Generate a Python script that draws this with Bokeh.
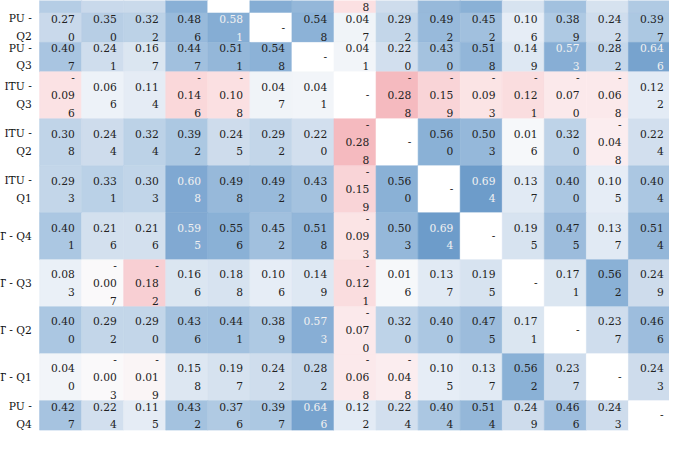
import math
from bokeh.plotting import figure
from bokeh.models import ColumnDataSource, LinearColorMapper, Range1d
from bokeh.transform import transform
from bokeh.core.properties import value
from bokeh.embed import file_html
from bokeh.resources import INLINE

NaN = float("nan")

# ---- data (correlation table, visible part) ----
row_labels = ["", "PU - Q2", "PU - Q3", "ITU - Q3", "ITU - Q2", "ITU - Q1",
              "T - Q4", "T - Q3", "T - Q2", "T - Q1", "PU - Q4"]

r_top   = [0.352, 0.268, 0.259, 0.570, NaN, 0.581, 0.511, -0.108, 0.245, 0.498, 0.556, 0.188, 0.441, 0.197, 0.376]
r_pu_q2 = [0.270, 0.350, 0.322, 0.486, 0.581, NaN, 0.548, 0.047, 0.292, 0.492, 0.452, 0.106, 0.389, 0.242, 0.397]
r_pu_q3 = [0.407, 0.241, 0.167, 0.447, 0.511, 0.548, NaN, 0.041, 0.220, 0.430, 0.518, 0.149, 0.573, 0.282, 0.646]
r_itu_q3 = [-0.096, 0.066, 0.114, -0.146, -0.108, 0.047, 0.041, NaN, -0.288, -0.159, -0.093, -0.121, -0.070, -0.068, 0.122]
r_itu_q2 = [0.308, 0.244, 0.324, 0.392, 0.245, 0.292, 0.220, -0.288, NaN, 0.560, 0.503, 0.016, 0.320, -0.048, 0.224]
r_itu_q1 = [0.293, 0.331, 0.303, 0.608, 0.498, 0.492, 0.430, -0.159, 0.560, NaN, 0.694, 0.137, 0.400, 0.105, 0.404]
r_t_q4  = [0.401, 0.216, 0.216, 0.595, 0.556, 0.452, 0.518, -0.093, 0.503, 0.694, NaN, 0.195, 0.475, 0.137, 0.514]
r_t_q3  = [0.083, -0.007, -0.182, 0.166, 0.188, 0.106, 0.149, -0.121, 0.016, 0.137, 0.195, NaN, 0.171, 0.562, 0.249]
r_t_q2  = [0.400, 0.292, 0.290, 0.436, 0.441, 0.389, 0.573, -0.070, 0.320, 0.400, 0.475, 0.171, NaN, 0.237, 0.466]
r_t_q1  = [0.040, -0.003, -0.019, 0.158, 0.197, 0.242, 0.282, -0.068, -0.048, 0.105, 0.137, 0.562, 0.237, NaN, 0.243]
r_pu_q4 = [0.427, 0.224, 0.115, 0.432, 0.376, 0.397, 0.646, 0.122, 0.224, 0.404, 0.514, 0.249, 0.466, 0.243, NaN]

rows = [r_top, r_pu_q2, r_pu_q3, r_itu_q3, r_itu_q2, r_itu_q1,
        r_t_q4, r_t_q3, r_t_q2, r_t_q1, r_pu_q4]

# ---- styling / layout (reference pixel space) ----
W_REF, H_REF = 685, 451
X0, CW = 40.0, 43.07
LINE = 18.2
PAD_R = 7.0
LABEL_R = 32.0
FIRST_ROW_BOTTOM = 13.0
MIN_TEXT_Y = 5.0          # lines above this are scrolled out of view
FONT = "DejaVu Serif"
FONT_SIZE = "10.7px"
DARK, LIGHT = "#222222", "#f1f1f1"

anchors = [(-1.0, "#b83a4b"), (-0.5, "#ee9aa2"), (-0.29, "#f5b9be"), (-0.1, "#fbe1e3"),
           (0.0, "#fafafb"), (0.1, "#e7eef6"), (0.25, "#cddcec"), (0.4, "#abc7e2"),
           (0.5, "#96b8da"), (0.565, "#89b0d6"), (0.6, "#80a9d2"), (0.7, "#6b9bc9"),
           (1.0, "#3a6fa8")]


def h2rgb(h):
    return tuple(int(h[i:i + 2], 16) for i in (1, 3, 5))


def interp(v):
    for (a, ca), (b, cb) in zip(anchors[:-1], anchors[1:]):
        if a <= v <= b:
            t = (v - a) / (b - a)
            ra, rb = h2rgb(ca), h2rgb(cb)
            return tuple(round(x + t * (y - x)) for x, y in zip(ra, rb))
    return h2rgb(anchors[-1][1])


N = 256
palette = []
for k in range(N):
    v = -1 + 2 * (k + 0.5) / N
    palette.append("#%02x%02x%02x" % interp(v))

LOW, HIGH = -1.0, 1.0
mapper = LinearColorMapper(palette=palette, low=LOW, high=HIGH, nan_color="#ffffff")


def lum(hexc):
    out = []
    for c in h2rgb(hexc):
        c = c / 255
        out.append(c / 12.92 if c <= 0.04045 else ((c + 0.055) / 1.055) ** 2.4)
    return 0.2126 * out[0] + 0.7152 * out[1] + 0.0722 * out[2]


def text_color(v):
    if math.isnan(v):
        return DARK
    idx = int((v - LOW) / (HIGH - LOW) * N)
    idx = max(0, min(N - 1, idx))
    return LIGHT if lum(palette[idx]) < 0.408 else DARK


def cell_lines(v):
    if math.isnan(v):
        return ["-"]
    s = f"{abs(v):.3f}"
    lines = [s[:4], s[4:]]
    if v < 0:
        lines = ["-"] + lines
    return lines


def wrap(label, width=6):
    lines, cur = [], ""
    for w in label.split(" "):
        if not w:
            continue
        cand = (cur + " " + w) if cur else w
        if len(cand) <= width or not cur:
            cur = cand
        else:
            lines.append(cur)
            cur = w
    if cur:
        lines.append(cur)
    return lines


quad = dict(left=[], right=[], top=[], bottom=[], v=[])
txt = dict(x=[], y=[], text=[], color=[])
lab = dict(x=[], y=[], text=[])

row_nlines = []
for label, vals in zip(row_labels, rows):
    n = max([len(cell_lines(v)) for v in vals] + [len(wrap(label))])
    row_nlines.append(n)

heights = [LINE * n - 5.9 for n in row_nlines]
y = FIRST_ROW_BOTTOM - heights[0]
for label, vals, h in zip(row_labels, rows, heights):
    top, bottom = y, y + h
    cy = (top + bottom) / 2
    for j, v in enumerate(vals):
        left = X0 + j * CW
        right = left + CW
        quad["left"].append(left)
        quad["right"].append(right)
        quad["top"].append(top)
        quad["bottom"].append(bottom)
        quad["v"].append(v)
        lines = cell_lines(v)
        n = len(lines)
        for k, s in enumerate(lines):
            ty = cy + (k - (n - 1) / 2) * LINE
            if ty < MIN_TEXT_Y:
                continue
            txt["x"].append(right - PAD_R)
            txt["y"].append(ty)
            txt["text"].append(s)
            txt["color"].append(text_color(v))
    llines = wrap(label)
    n = len(llines)
    for k, s in enumerate(llines):
        ty = cy + (k - (n - 1) / 2) * LINE
        if ty < MIN_TEXT_Y:
            continue
        lab["x"].append(LABEL_R)
        lab["y"].append(ty)
        lab["text"].append(s)
    y = bottom

p = figure(width=669, height=435, x_range=Range1d(0, W_REF), y_range=Range1d(H_REF, 0),
           output_backend="svg", toolbar_location=None, min_border=0,
           x_axis_location=None, y_axis_location=None)
p.grid.visible = False
p.outline_line_color = None
p.background_fill_color = "white"
p.border_fill_color = "white"

p.quad(left="left", right="right", top="top", bottom="bottom", source=ColumnDataSource(quad),
       fill_color=transform("v", mapper), line_color=transform("v", mapper), line_width=0.6)

p.text(x="x", y="y", text="text", source=ColumnDataSource(txt), text_color="color",
       text_font=value(FONT), text_font_size=FONT_SIZE, text_align="right",
       text_baseline="middle")

p.text(x="x", y="y", text="text", source=ColumnDataSource(lab), text_color="#111111",
       text_font=value(FONT), text_font_size=FONT_SIZE, text_align="right",
       text_baseline="middle")

open("out.html", "w").write(file_html(p, INLINE))
